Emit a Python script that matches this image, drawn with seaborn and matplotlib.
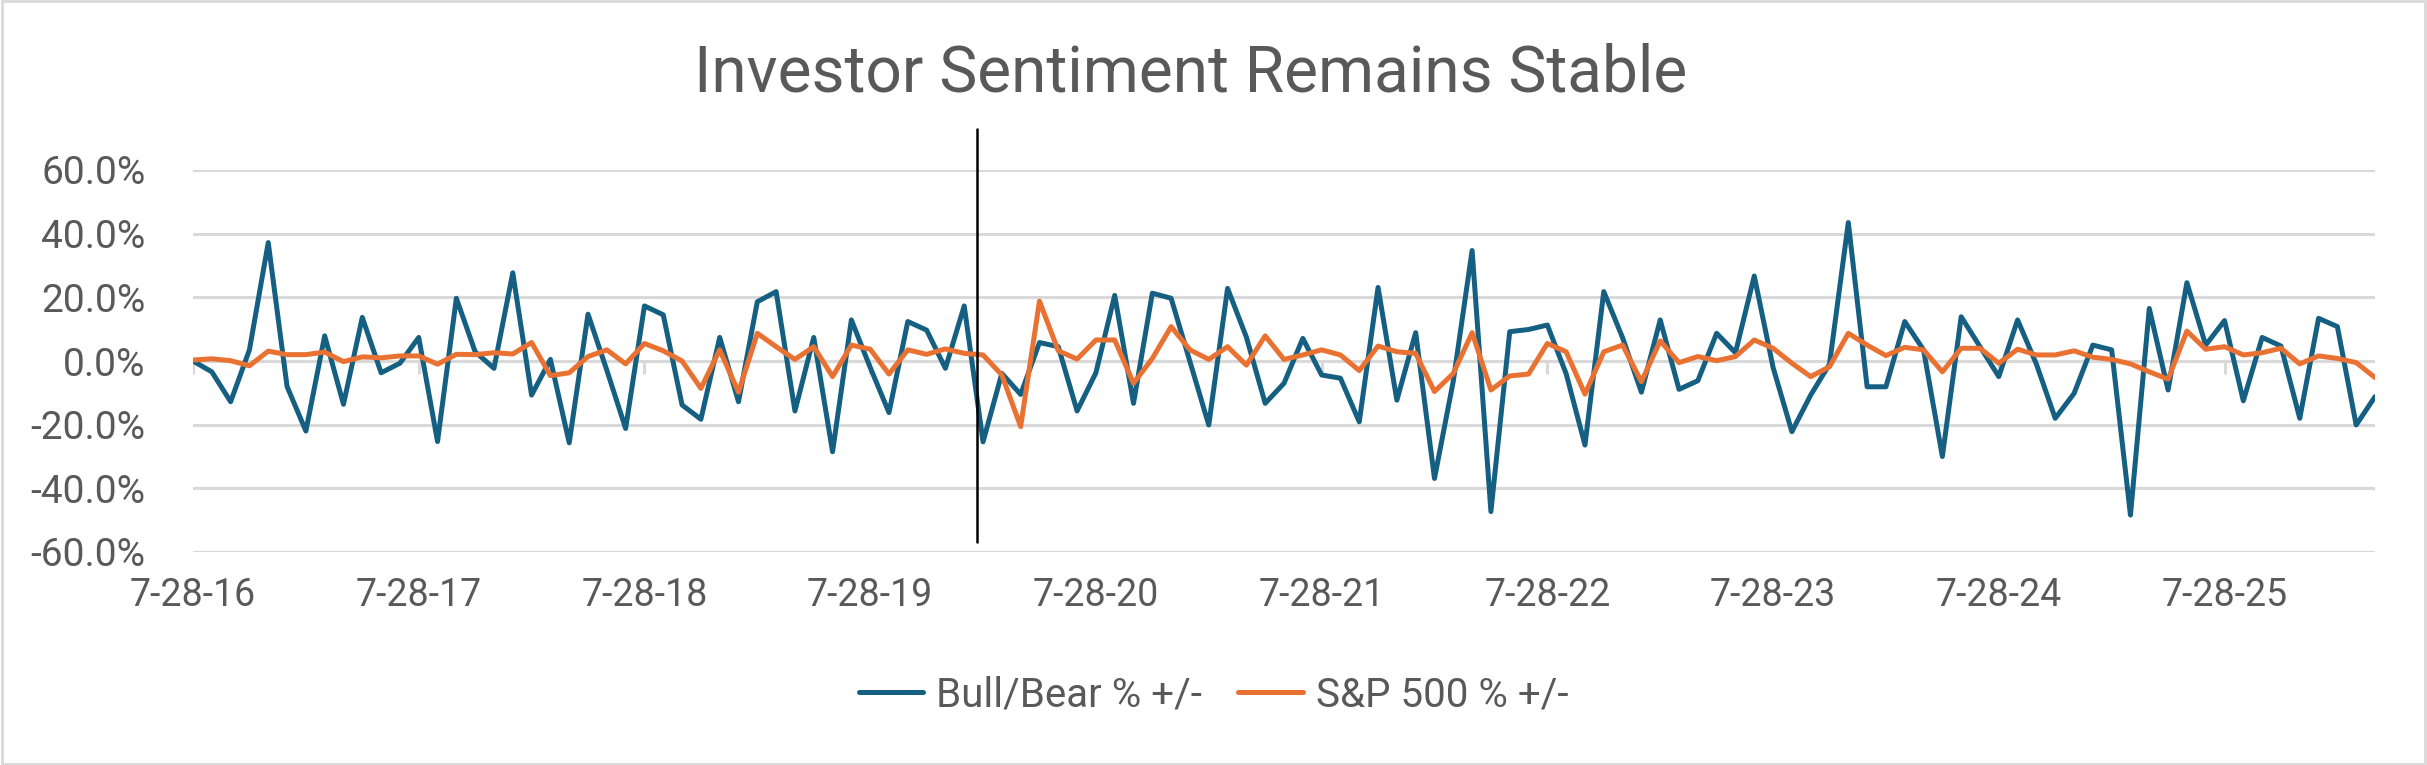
import numpy as np
import pandas as pd
import matplotlib
matplotlib.use("Agg")
import matplotlib.pyplot as plt
import seaborn as sns
from matplotlib.ticker import FuncFormatter
from matplotlib.patches import Rectangle
from matplotlib.lines import Line2D

# ---------------- data (percent, monthly, starting 7-28-16) ----------------
bull_bear = [
    0.0, -3.4, -12.8, 3.5, 37.2, -8.0, -22.0, 7.9, -13.6, 13.7,
    -3.7, -0.7, 7.4, -25.3, 19.7, 2.9, -2.3, 27.7, -10.7, 0.5,
    -25.7, 14.7, -2.9, -21.2, 17.3, 14.5, -13.8, -18.3, 7.4, -12.8,
    18.6, 21.8, -15.7, 7.4, -28.5, 12.9, -2.0, -16.2, 12.4, 9.7,
    -2.3, 17.3, -25.4, -3.9, -10.5, 5.8, 4.5, -15.7, -3.7, 20.6,
    -13.3, 21.3, 19.7, -0.2, -20.1, 22.8, 7.5, -13.3, -7.0, 7.1,
    -4.4, -5.4, -19.1, 23.1, -12.3, 8.9, -36.9, -6.3, 34.7, -47.3,
    9.2, 9.9, 11.3, -4.0, -26.4, 21.8, 7.3, -9.8, 12.9, -8.9,
    -6.2, 8.7, 2.6, 26.7, -2.0, -22.2, -10.7, -1.0, 43.5, -8.1,
    -8.1, 12.4, 3.5, -30.0, 13.9, 4.5, -4.9, 12.9, -1.0, -18.0,
    -10.2, 5.0, 3.5, -48.4, 16.5, -9.1, 24.6, 5.0, 12.7, -12.5,
    7.4, 4.7, -18.0, 13.4, 10.8, -20.1, -11.2,
]
sp500 = [
    0.3, 0.7, 0.1, -1.5, 3.1, 2.0, 2.0, 2.8, -0.2, 1.3,
    1.0, 1.6, 1.6, -1.0, 2.1, 2.0, 2.6, 2.2, 5.8, -4.6,
    -3.7, 1.4, 3.5, -0.9, 5.5, 3.2, 0.0, -8.6, 3.5, -9.8,
    8.7, 4.5, 0.5, 4.5, -4.9, 5.0, 3.7, -4.1, 3.5, 2.1,
    3.8, 2.4, 1.9, -4.4, -20.6, 18.8, 3.2, 0.6, 6.6, 6.6,
    -7.0, 0.8, 10.8, 3.5, 0.5, 4.5, -1.3, 7.9, 0.5, 1.9,
    3.5, 1.9, -3.0, 4.7, 2.9, 2.4, -9.6, -3.9, 8.9, -9.1,
    -4.7, -4.1, 5.5, 2.9, -10.4, 2.9, 5.0, -6.5, 6.3, -0.5,
    1.4, 0.1, 1.4, 6.6, 4.0, -0.7, -4.9, -1.8, 8.7, 5.0,
    1.7, 4.3, 3.5, -3.4, 4.0, 4.0, -0.7, 3.7, 1.9, 1.9,
    3.2, 1.2, 0.5, -0.9, -3.4, -5.7, 9.4, 3.7, 4.5, 1.9,
    2.6, 4.0, -0.9, 1.6, 0.8, -0.5, -5.2,
]
series_names = ["Bull/Bear % +/-", "S&P 500 % +/-"]
tick_labels = ["7-28-16", "7-28-17", "7-28-18", "7-28-19", "7-28-20",
               "7-28-21", "7-28-22", "7-28-23", "7-28-24", "7-28-25"]
tick_months = [0, 12, 24, 36, 48, 60, 72, 84, 96, 108]
event_month = 41.7   # vertical marker line (early 2020)
title_text = "Investor Sentiment Remains Stable"

# ---------------- styling ----------------
BLUE = "#156082"
ORANGE = "#E97132"
GRID = "#D9D9D9"
TEXT = "#595959"

sns.set_theme(style="white")
plt.rcParams['font.family'] = ['Roboto', 'DejaVu Sans']

n = len(bull_bear)
df = pd.DataFrame({
    "month": np.arange(n),
    series_names[0]: bull_bear,
    series_names[1]: sp500,
}).melt(id_vars="month", var_name="series", value_name="value")

W, H = 2427, 765
fig = plt.figure(figsize=(W / 100, H / 100), dpi=100)
x0, x1, y0, y1 = 193, 2375, 170, 552
ax = fig.add_axes([x0 / W, 1 - y1 / H, (x1 - x0) / W, (y1 - y0) / H])

sns.lineplot(data=df, x="month", y="value", hue="series",
             hue_order=series_names, palette=[BLUE, ORANGE],
             linewidth=3.6, ax=ax, legend=False, sort=False, zorder=3)

ax.set_xlim(0, n - 1)
ax.set_ylim(-60, 60)
ax.set_yticks(np.arange(-60, 61, 20))
ax.yaxis.set_major_formatter(FuncFormatter(lambda v, p: f"{v:.1f}%"))
ax.set_xticks(tick_months)
ax.set_xticklabels(tick_labels)
ax.set_xlabel("")
ax.set_ylabel("")
ax.grid(False)
ax.yaxis.grid(True, color=GRID, linewidth=2.2, zorder=0)
for s in ax.spines.values():
    s.set_visible(False)
ax.tick_params(axis="y", length=0, labelsize=28, labelcolor=TEXT, pad=34)
ax.tick_params(axis="x", length=0, labelsize=27, labelcolor=TEXT, pad=18)

# horizontal category axis at zero with small tick marks
ax.axhline(0, color=GRID, linewidth=2.2, zorder=1)
ax.vlines(tick_months, -4.0, 0, color=GRID, linewidth=2.2, zorder=1)

# vertical marker line extending above the plot area
ax.plot([event_month, event_month], [73.0, -57.0], color="black",
        linewidth=1.8, clip_on=False, zorder=4)

fig.text(0.4905, 1 - 74 / H, title_text, ha="center", va="center",
         fontsize=46, color=TEXT)

handles = [Line2D([], [], color=BLUE, linewidth=3.6),
           Line2D([], [], color=ORANGE, linewidth=3.6)]
leg = fig.legend(handles, series_names, loc="center", ncol=2,
                 bbox_to_anchor=(0.5, 1 - 695 / H), frameon=False,
                 fontsize=29, handlelength=1.6, handletextpad=0.32,
                 columnspacing=0.9)
for t in leg.get_texts():
    t.set_color(TEXT)

fig.add_artist(Rectangle((0.0008, 0.0013), 0.9984, 0.9974,
                         transform=fig.transFigure, fill=False,
                         edgecolor=GRID, linewidth=2))

fig.savefig("out.png", dpi=100, facecolor="white")
